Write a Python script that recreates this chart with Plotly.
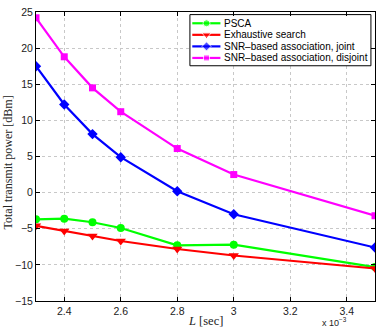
import plotly.graph_objects as go

# L in units of 1e-3 sec
L_ms = [2.3, 2.4, 2.5, 2.6, 2.8, 3.0, 3.5]

psca = [-3.7, -3.6, -4.1, -4.9, -7.3, -7.2, -10.3]
exhaustive = [-4.6, -5.3, -6.0, -6.7, -7.8, -8.7, -10.5]
snr_joint = [17.5, 12.2, 8.1, 4.9, 0.2, -3.0, -7.6]
snr_disjoint = [24.2, 18.8, 14.5, 11.2, 6.1, 2.5, -3.2]

series = [
    ('PSCA', psca, '#00ff00', 'circle', 8),
    ('Exhaustive search', exhaustive, '#ff0000', 'triangle-down', 9),
    ('SNR\u2013based association, joint', snr_joint, '#0000ff', 'diamond', 8),
    ('SNR\u2013based association, disjoint', snr_disjoint, '#ff00ff', 'square', 7),
]

fig = go.Figure()
for name, vals, col, sym, sz in series:
    fig.add_trace(go.Scatter(
        x=L_ms, y=vals, mode='lines+markers', name=name,
        line=dict(color=col, width=2.2),
        marker=dict(symbol=sym, size=sz, color=col),
        showlegend=False,
    ))

# hand-made matlab style legend box on an overlay axis (0..1 = plot area)
box_x0, box_x1, box_y0, box_y1 = 0.454, 0.988, 0.814, 0.991
fig.add_trace(go.Scatter(
    x=[box_x0, box_x1, box_x1, box_x0, box_x0],
    y=[box_y0, box_y0, box_y1, box_y1, box_y0],
    mode='lines', fill='toself', fillcolor='white',
    line=dict(color='black', width=1), xaxis='x2', yaxis='y2',
    showlegend=False, hoverinfo='skip',
))
row_y = [0.961, 0.921, 0.881, 0.841]
for (name, vals, col, sym, sz), ry in zip(series, row_y):
    fig.add_trace(go.Scatter(
        x=[0.461, 0.503, 0.544], y=[ry, ry, ry], mode='lines+markers',
        line=dict(color=col, width=2.2),
        marker=dict(symbol=sym, size=[0, sz - 1, 0], color=col),
        xaxis='x2', yaxis='y2', showlegend=False, hoverinfo='skip',
    ))
    fig.add_annotation(
        text=name, xref='x2', yref='y2', x=0.55, y=ry,
        xanchor='left', yanchor='middle', showarrow=False,
        font=dict(family='Liberation Sans, Arial', size=10, color='black'),
    )

axis_common = dict(
    showline=True, linecolor='black', linewidth=1, mirror='ticks',
    ticks='inside', ticklen=4, tickcolor='black',
    showgrid=True, gridcolor='#c8c8c8', griddash='dot', gridwidth=1,
    zeroline=False,
    tickfont=dict(family='Liberation Sans, Arial', size=10.5, color='#222'),
)

fig.update_layout(
    width=382, height=330,
    margin=dict(l=36, r=6, t=10, b=29),
    paper_bgcolor='white', plot_bgcolor='white',
    showlegend=False,
    xaxis=dict(axis_common, range=[2.3, 3.5], tickvals=[2.4, 2.6, 2.8, 3.0, 3.2, 3.4],
               ticktext=['2.4', '2.6', '2.8', '3', '3.2', '3.4']),
    yaxis=dict(axis_common, range=[-15, 25], dtick=5),
    xaxis2=dict(overlaying='x', range=[0, 1], visible=False),
    yaxis2=dict(overlaying='y', range=[0, 1], visible=False),
)

fig.add_annotation(
    text='<i>L</i> [sec]', xref='paper', yref='paper', x=0.5, y=-0.069,
    xanchor='center', yanchor='middle', showarrow=False,
    font=dict(family='Liberation Serif, DejaVu Serif', size=12.5, color='#222'),
)
fig.add_annotation(
    text='Total transmit power [dBm]', xref='paper', yref='paper', x=-0.082, y=0.48,
    textangle=-90, xanchor='center', yanchor='middle', showarrow=False,
    font=dict(family='Liberation Serif, DejaVu Serif', size=12, color='#222'),
)
fig.add_annotation(
    text='x 10<sup>\u22123</sup>', xref='paper', yref='paper', x=0.88, y=-0.074,
    xanchor='center', yanchor='middle', showarrow=False,
    font=dict(family='Liberation Sans, Arial', size=9, color='#222'),
)

fig.write_html("out.html", config=dict(displayModeBar=False),
               post_script="document.body.style.margin='0';")
